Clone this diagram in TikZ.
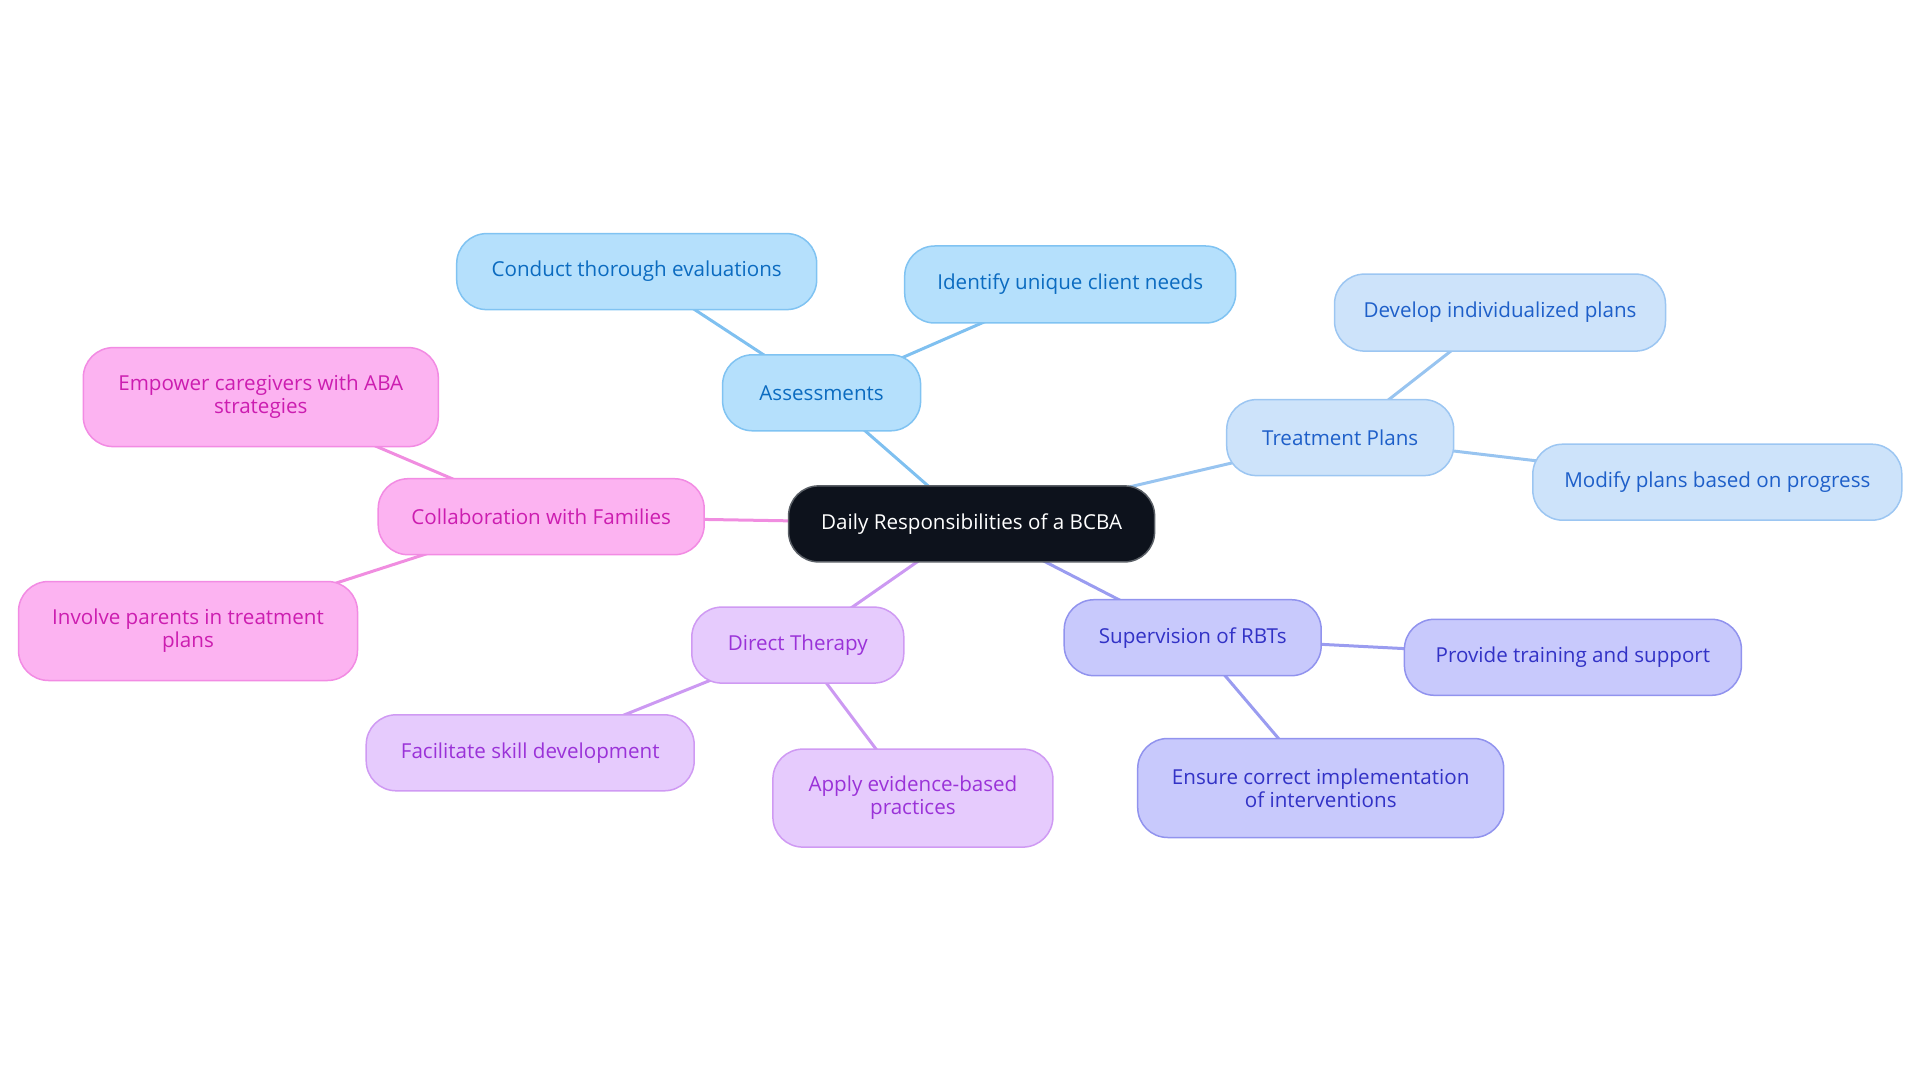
\documentclass[tikz,border=0pt]{standalone}
\usepackage{fontspec}
\setmainfont{Open Sans}
\usetikzlibrary{backgrounds}
\definecolor{aFill}{HTML}{B5E0FC}\definecolor{aDraw}{HTML}{80C3F2}\definecolor{aText}{HTML}{0B6BC0}\definecolor{aLine}{HTML}{7FC0F0}
\definecolor{tFill}{HTML}{CDE3FA}\definecolor{tDraw}{HTML}{9CC6F2}\definecolor{tText}{HTML}{1E5FC9}\definecolor{tLine}{HTML}{98C4F0}
\definecolor{sFill}{HTML}{C8C9FC}\definecolor{sDraw}{HTML}{9193EE}\definecolor{sText}{HTML}{3232C6}\definecolor{sLine}{HTML}{9A9CF0}
\definecolor{dFill}{HTML}{E6CBFD}\definecolor{dDraw}{HTML}{CF9AF3}\definecolor{dText}{HTML}{9A32D8}\definecolor{dLine}{HTML}{CC99F2}
\definecolor{fFill}{HTML}{FCB3F1}\definecolor{fDraw}{HTML}{F28BE3}\definecolor{fText}{HTML}{CC1DB0}\definecolor{fLine}{HTML}{F08DE0}
\definecolor{cFill}{HTML}{0D121C}\definecolor{cDraw}{HTML}{5A5F66}
\begin{document}
\begin{tikzpicture}[x=1pt,y=-1pt,
  box/.style={rounded corners=30pt, draw, line width=1.5pt, inner sep=0pt, align=center,
    font=\fontsize{20.6}{23}\selectfont},
  sz/.style 2 args={minimum width=#1pt, minimum height=#2pt},
  grpA/.style={box, fill=aFill, draw=aDraw, text=aText},
  grpT/.style={box, fill=tFill, draw=tDraw, text=tText},
  grpS/.style={box, fill=sFill, draw=sDraw, text=sText},
  grpD/.style={box, fill=dFill, draw=dDraw, text=dText},
  grpF/.style={box, fill=fFill, draw=fDraw, text=fText},
  root/.style={box, fill=cFill, draw=cDraw, text=white},
  edge/.style={line width=3pt}
]
\useasboundingbox (0,0) rectangle (1920,1083);
\node[root, sz={366}{76}] (c) at (971.6,523.9) {Daily Responsibilities of a BCBA};
\node[grpA, sz={198}{76}] (a) at (821.6,392.8) {Assessments};
\node[grpA, sz={360}{76}] (a1) at (636.7,271.6) {Conduct thorough evaluations};
\node[grpA, sz={331}{77}] (a2) at (1070.2,284.5) {Identify unique client needs};
\node[grpT, sz={227}{76}] (t) at (1340.2,437.6) {Treatment Plans};
\node[grpT, sz={331}{77}] (t1) at (1500,312.6) {Develop individualized plans};
\node[grpT, sz={369}{76}] (t2) at (1717.3,482.2) {Modify plans based on progress};
\node[grpF, sz={326}{76}] (f) at (541.2,516.7) {Collaboration with Families};
\node[grpF, sz={355}{99}] (f1) at (260.8,397.1) {Empower caregivers with ABA\\strategies};
\node[grpF, sz={339}{99}] (f2) at (188,631) {Involve parents in treatment\\plans};
\node[grpD, sz={212}{76}] (d) at (797.8,645.1) {Direct Therapy};
\node[grpD, sz={328}{76}] (d1) at (530.2,752.8) {Facilitate skill development};
\node[grpD, sz={280}{98}] (d2) at (912.9,798.1) {Apply evidence-based\\practices};
\node[grpS, sz={257}{76}] (s) at (1192.7,637.7) {Supervision of RBTs};
\node[grpS, sz={337}{76}] (s1) at (1572.9,657.3) {Provide training and support};
\node[grpS, sz={366}{99}] (s2) at (1320.7,788) {Ensure correct implementation\\of interventions};
\begin{scope}[on background layer]
\draw[edge, aLine] (c.center) -- (a.center);
\draw[edge, aLine] (a.center) -- (a1.center);
\draw[edge, aLine] (a.center) -- (a2.center);
\draw[edge, tLine] (c.center) -- (t.center);
\draw[edge, tLine] (t.center) -- (t1.center);
\draw[edge, tLine] (t.center) -- (t2.center);
\draw[edge, fLine] (c.center) -- (f.center);
\draw[edge, fLine] (f.center) -- (f1.center);
\draw[edge, fLine] (f.center) -- (f2.center);
\draw[edge, dLine] (c.center) -- (d.center);
\draw[edge, dLine] (d.center) -- (d1.center);
\draw[edge, dLine] (d.center) -- (d2.center);
\draw[edge, sLine] (c.center) -- (s.center);
\draw[edge, sLine] (s.center) -- (s1.center);
\draw[edge, sLine] (s.center) -- (s2.center);
\end{scope}
\end{tikzpicture}
\end{document}
